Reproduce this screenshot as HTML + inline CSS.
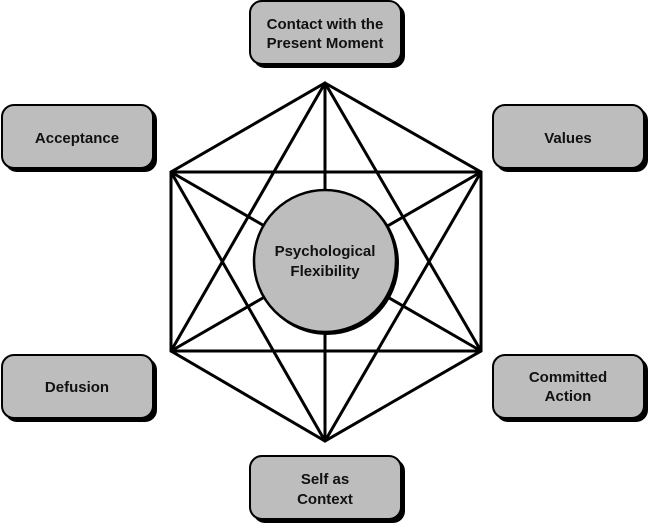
<!DOCTYPE html>
<html><head><style>
body{margin:0;background:#fff;}
svg text{font-family:"Liberation Sans",Arial,sans-serif;font-weight:bold;font-size:15px;fill:#111;}
</style></head><body>
<svg width="649" height="525" viewBox="0 0 649 525" xmlns="http://www.w3.org/2000/svg">
<g stroke="#000" stroke-width="3" fill="none" stroke-linecap="round">
<path d="M325 83 L481 172 L481 351 L325 441 L171 351 L171 172 Z"/>
<path d="M325 83 L481 351 M325 83 L325 441 M325 83 L171 351
M481 172 L171 172 M481 172 L325 441 M481 172 L171 351
M481 351 L171 351 M481 351 L171 172
M325 441 L171 172"/>
</g>
<circle cx="327" cy="263" r="72" fill="#000"/>
<circle cx="325" cy="261" r="71" fill="#bdbdbd" stroke="#000" stroke-width="2.5"/>
<text x="325" y="256" text-anchor="middle">Psychological</text>
<text x="325" y="276" text-anchor="middle">Flexibility</text>
<g>
<rect x="253" y="4" width="152" height="64" rx="12" fill="#000"/>
<rect x="250" y="1" width="151" height="63" rx="12" fill="#bdbdbd" stroke="#000" stroke-width="2"/>
<text x="325" y="29" text-anchor="middle">Contact with the</text>
<text x="325" y="48" text-anchor="middle">Present Moment</text>

<rect x="5" y="108" width="152" height="64" rx="12" fill="#000"/>
<rect x="2" y="105" width="151" height="63" rx="12" fill="#bdbdbd" stroke="#000" stroke-width="2"/>
<text x="77" y="143" text-anchor="middle">Acceptance</text>

<rect x="496" y="108" width="152" height="64" rx="12" fill="#000"/>
<rect x="493" y="105" width="151" height="63" rx="12" fill="#bdbdbd" stroke="#000" stroke-width="2"/>
<text x="568" y="143" text-anchor="middle">Values</text>

<rect x="5" y="358" width="152" height="64" rx="12" fill="#000"/>
<rect x="2" y="355" width="151" height="63" rx="12" fill="#bdbdbd" stroke="#000" stroke-width="2"/>
<text x="77" y="392" text-anchor="middle">Defusion</text>

<rect x="496" y="358" width="152" height="64" rx="12" fill="#000"/>
<rect x="493" y="355" width="151" height="63" rx="12" fill="#bdbdbd" stroke="#000" stroke-width="2"/>
<text x="568" y="382" text-anchor="middle">Committed</text>
<text x="568" y="401" text-anchor="middle">Action</text>

<rect x="253" y="459" width="152" height="64" rx="12" fill="#000"/>
<rect x="250" y="456" width="151" height="63" rx="12" fill="#bdbdbd" stroke="#000" stroke-width="2"/>
<text x="325" y="484" text-anchor="middle">Self as</text>
<text x="325" y="504" text-anchor="middle">Context</text>
</g>
</svg>
</body></html>
